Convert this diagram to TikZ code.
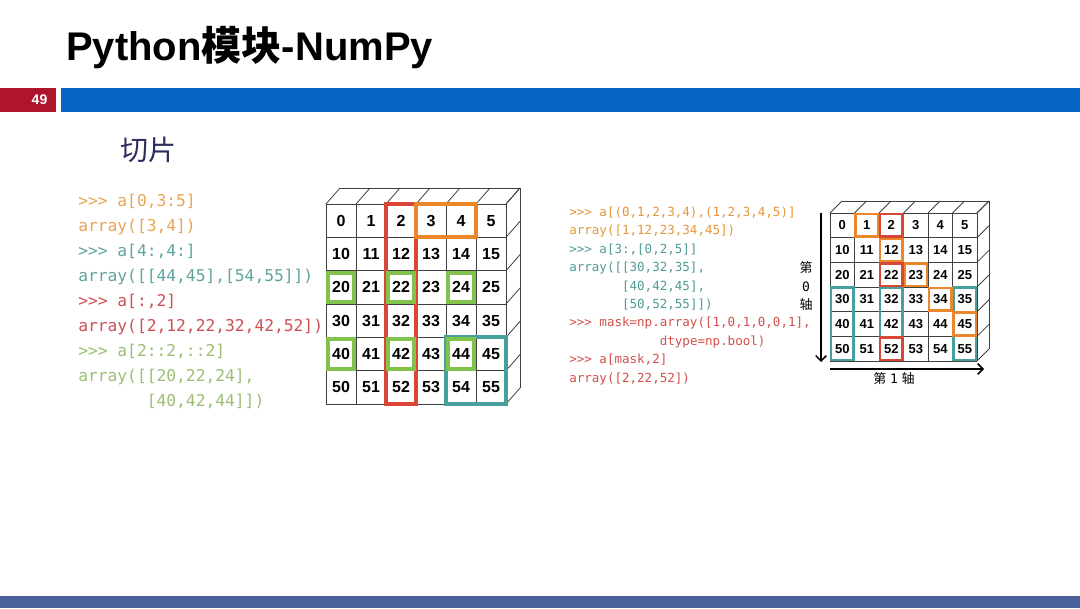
\documentclass[tikz,border=0pt]{standalone}
\usepackage{fontspec}
\setmainfont{Liberation Sans}
\setmonofont{DejaVu Sans Mono}
\newfontfamily\cjk{Noto Sans CJK SC}
\usetikzlibrary{arrows.meta}

\definecolor{barred}{RGB}{175,20,45}
\definecolor{barblue}{RGB}{5,100,195}
\definecolor{footblue}{RGB}{74,96,154}
\definecolor{navy}{RGB}{45,45,95}
\definecolor{corange}{RGB}{232,165,85}
\definecolor{cteal}{RGB}{95,165,160}
\definecolor{cred}{RGB}{205,80,85}
\definecolor{cgreen}{RGB}{155,190,115}
\definecolor{rorange}{RGB}{228,150,60}
\definecolor{rteal}{RGB}{80,155,150}
\definecolor{rred}{RGB}{210,80,75}
\definecolor{hred}{RGB}{215,70,55}
\definecolor{horange}{RGB}{235,135,40}
\definecolor{hgreen}{RGB}{130,195,75}
\definecolor{hteal}{RGB}{70,160,155}

\tikzset{
  cell/.style={draw=black!75, line width=0.6pt},
  numL/.style={inner sep=0, font=\fontsize{12}{14}\selectfont\bfseries},
  numR/.style={inner sep=0, font=\fontsize{9.75}{11}\selectfont\bfseries},
  codeL/.style={anchor=base west, inner sep=0, font=\ttfamily\fontsize{12.2}{14}\selectfont},
  codeR/.style={anchor=base west, inner sep=0, font=\ttfamily\fontsize{9.4}{11}\selectfont},
  boxL/.style={line width=3pt},
  boxR/.style={line width=2.2pt},
  axis/.style={line width=1.1pt, -{Straight Barb[length=4pt,width=8pt]}},
  axlabel/.style={inner sep=0, font=\fontsize{9.75}{11}\selectfont},
}

\begin{document}
\begin{tikzpicture}[x=0.75pt,y=-0.75pt]
\useasboundingbox (0,0) rectangle (1080,608);
\fill[white] (0,0) rectangle (1080,608);

% kop
\node[anchor=base west, inner sep=0, font=\fontsize{30}{36}\selectfont\bfseries] (title) at (66,60) {Python{\cjk 模块}-NumPy};
\fill[barred] (0,88) rectangle (56,112);
\fill[barblue] (61,88) rectangle (1080,112);
\node[anchor=east, text=white, font=\fontsize{10.5}{12}\selectfont\bfseries] (page) at (52,100) {49};
\node[text=navy, inner sep=0, font=\cjk\fontsize{21}{24}\selectfont] (sub) at (148,150) {切片};
\fill[footblue] (0,596) rectangle (1080,608);

% code links
\foreach \txt/\col [count=\k from 0] in {
  {>>> a[0,3:5]}/corange, {array([3,4])}/corange,
  {>>> a[4:,4:]}/cteal, {array([[44,45],[54,55]])}/cteal,
  {>>> a[:,2]}/cred, {array([2,12,22,32,42,52])}/cred,
  {>>> a[2::2,::2]}/cgreen, {array([[20,22,24],}/cgreen,
  {\hphantom{array([}[40,42,44]])}/cgreen}
  \node[codeL, text=\col] (cl\k) at (78,{206+25*\k}) {\txt};

% rooster links
\foreach \i in {0,...,6} {
  \draw[cell] ({326+30*\i},204) -- ({326+30*\i},404);
  \draw[cell] (326,{204+33.33*\i}) -- (506,{204+33.33*\i});
  \draw[cell] ({326+30*\i},204) -- ++(14,-16);
  \draw[cell] (506,{204+33.33*\i}) -- ++(14,-16);
}
\draw[cell] (340,188) -- (520,188) -- (520,388);
\foreach \r in {0,...,5} \foreach \c in {0,...,5} {
  \pgfmathtruncatemacro\v{10*\r+\c}
  \node[numL] (L\r\c) at ({341+30*\c},{220.7+33.33*\r}) {\v};
}
% kaders links
\draw[boxL, hred] (386,204) rectangle (416,404);
\draw[boxL, horange] (416,204) rectangle (476,237.3);
\draw[boxL, hteal] (446,337.3) rectangle (506,404);
\foreach \r in {2,4} \foreach \c in {0,2,4}
  \draw[boxL, hgreen] ({328+30*\c},{206+33.33*\r}) rectangle ++(26,29.3);

% code rechts
\foreach \txt/\col [count=\k from 0] in {
  {>>> a[(0,1,2,3,4),(1,2,3,4,5)]}/rorange, {array([1,12,23,34,45])}/rorange,
  {>>> a[3:,[0,2,5]]}/rteal, {array([[30,32,35],}/rteal,
  {\hphantom{array([}[40,42,45],}/rteal, {\hphantom{array([}[50,52,55]])}/rteal,
  {>>> mask=np.array([1,0,1,0,0,1],}/rred, {\hphantom{>>> mask=np.}dtype=np.bool)}/rred,
  {>>> a[mask,2]}/rred, {array([2,22,52])}/rred}
  \node[codeR, text=\col] (cr\k) at (569,{216.5+18.4*\k}) {\txt};

% rooster rechts
\foreach \i in {0,...,6} {
  \draw[cell] ({830+24.5*\i},213) -- ({830+24.5*\i},361);
  \draw[cell] (830,{213+24.67*\i}) -- (977,{213+24.67*\i});
  \draw[cell] ({830+24.5*\i},213) -- ++(12,-12);
  \draw[cell] (977,{213+24.67*\i}) -- ++(12,-12);
}
\draw[cell] (842,201) -- (989,201) -- (989,349);
\foreach \r in {0,...,5} \foreach \c in {0,...,5} {
  \pgfmathtruncatemacro\v{10*\r+\c}
  \node[numR] (R\r\c) at ({842.25+24.5*\c},{225.3+24.67*\r}) {\v};
}
% kaders rechts
\foreach \c in {0,2,5}
  \draw[boxR, hteal] ({831+24.5*\c},287.7) rectangle ++(22.5,72.3);
\foreach \c/\r in {1/0,2/1,3/2,4/3,5/4}
  \draw[boxR, horange] ({831+24.5*\c},{214+24.67*\r}) rectangle ++(22.5,22.67);
\foreach \r in {0,2,5}
  \draw[boxR, hred] (880,{214+24.67*\r}) rectangle ++(22.5,22.67);

% assen
\coordinate (v0) at (821,213);
\coordinate (v1) at (821,362);
\coordinate (h0) at (830,369);
\coordinate (h1) at (984,369);
\draw[axis] (v0) -- (v1);
\draw[axis] (h0) -- (h1);
\node[axlabel] (ax0a) at (806,268) {\cjk 第};
\node[axlabel] (ax0b) at (806,287) {\ttfamily 0};
\node[axlabel] (ax0c) at (806,305) {\cjk 轴};
\node[axlabel] (ax1) at (894,379) {{\cjk 第} \texttt{1} {\cjk 轴}};
\end{tikzpicture}
\end{document}
